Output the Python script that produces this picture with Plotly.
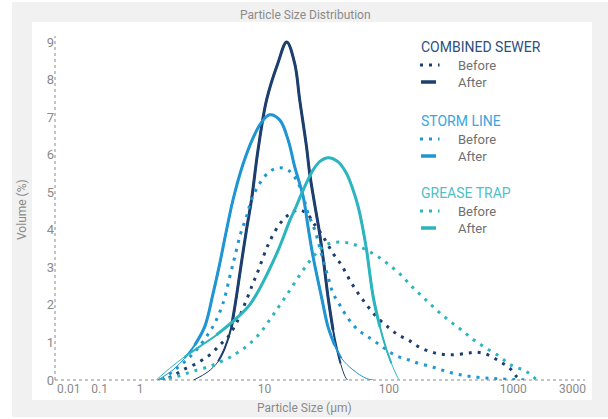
import plotly.graph_objects as go

# ---------------- data (particle size in µm, volume in %) ----------------
CS_BEFORE_SIZE = [1.44, 1.79, 2.21, 2.84, 3.63, 4.37, 5.10, 6.12, 7.16, 8.10, 8.88, 10.7, 13.1, 15.5,
                  18.6, 21.8, 25.4, 29.6, 35.6, 41.6, 48.5, 56.6, 68.1, 82.0, 101, 119, 143, 172,
                  228, 310, 422, 510, 628, 782, 941, 1065, 1150]
CS_BEFORE_VOL = [0, 0.09, 0.27, 0.44, 0.67, 0.93, 1.15, 1.6, 2.13, 2.58, 2.9, 3.6, 4.13, 4.39,
                 4.53, 4.44, 4.13, 3.82, 3.37, 3.06, 2.66, 2.31, 1.95, 1.64, 1.38, 1.2, 1.07, 0.89,
                 0.73, 0.67, 0.71, 0.74, 0.67, 0.49, 0.31, 0.09, 0]

CS_AFTER_SIZE = [2.7, 3.52, 4.24, 4.79, 5.43, 5.95, 6.52, 7.16, 7.86, 8.88, 10.4, 12.8, 15.1, 17.5,
                 19.2, 21.8, 23.1, 25.0, 27.5, 30.0, 32.4, 35.6, 38.4, 40.9, 44.5, 46.5]
CS_AFTER_VOL = [0, 0.22, 0.49, 0.84, 1.42, 2.22, 3.11, 3.99, 4.79, 6.13, 7.46, 8.43, 9.0, 8.43,
                7.46, 6.2, 5.5, 4.79, 3.99, 3.11, 2.22, 1.33, 0.8, 0.44, 0.09, 0]

SL_BEFORE_SIZE = [1.5, 1.90, 2.36, 2.84, 3.41, 3.98, 4.64, 5.26, 5.77, 6.45, 7.17, 7.86, 9.17, 11.0,
                  13.1, 15.5, 18.1, 20.5, 22.4, 25.4, 28.5, 32.4, 35.6, 40.3, 47.0, 56.6, 68.1, 84.7,
                  101, 119, 143, 167, 227, 310, 422, 574, 782, 1362]
SL_BEFORE_VOL = [0, 0.27, 0.53, 0.8, 1.15, 1.51, 2.04, 2.75, 3.28, 3.91, 4.35, 4.79, 5.24, 5.55,
                 5.65, 5.59, 5.33, 4.88, 4.44, 3.99, 3.4, 2.75, 2.31, 2.0, 1.64, 1.33, 1.15, 0.93,
                 0.75, 0.62, 0.54, 0.46, 0.34, 0.2, 0.11, 0.06, 0.03, 0]

SL_AFTER_SIZE = [1.39, 1.84, 2.28, 2.75, 3.31, 3.86, 4.37, 4.89, 5.59, 6.73, 8.10, 9.46, 11.0, 13.3,
                 15.5, 17.5, 20.5, 22.4, 24.6, 28.7, 32.4, 36.7, 41.6, 51.5, 66.0, 74.6]
SL_AFTER_VOL = [0, 0.27, 0.58, 0.93, 1.42, 2.3, 3.1, 3.9, 4.8, 5.75, 6.45, 6.86, 7.06, 6.92,
                6.39, 5.68, 4.88, 4.08, 3.28, 2.22, 1.42, 0.93, 0.58, 0.27, 0.04, 0]

GT_BEFORE_SIZE = [1.44, 1.96, 2.59, 3.52, 4.79, 5.95, 7.38, 9.17, 11.7, 15.0, 20.5, 24.6, 28.7, 33.7,
                  42.9, 53.2, 66.2, 82.0, 101, 125, 152, 189, 234, 300, 384, 476, 611, 782, 912,
                  1032, 1203, 1362, 1543]
GT_BEFORE_VOL = [0, 0.09, 0.22, 0.35, 0.53, 0.71, 0.93, 1.24, 1.73, 2.25, 2.93, 3.28, 3.51, 3.64,
                 3.67, 3.6, 3.46, 3.28, 3.06, 2.8, 2.5, 2.2, 1.91, 1.6, 1.33, 1.08, 0.84, 0.62, 0.44,
                 0.35, 0.27, 0.16, 0]

GT_AFTER_SIZE = [1.35, 1.73, 2.28, 3.01, 4.11, 5.95, 7.60, 9.17, 12.9, 16.0, 17.5, 20.5, 24.6, 27.9,
                 32.5, 39.1, 45.7, 51.6, 56.6, 61.4, 66.2, 74.8, 84.7, 95.9, 105, 119, 122]
GT_AFTER_VOL = [0, 0.31, 0.62, 0.89, 1.2, 1.64, 2.0, 2.44, 3.46, 4.25, 4.53, 5.06, 5.59, 5.82,
                5.92, 5.81, 5.5, 5.06, 4.62, 4.08, 3.46, 2.22, 1.42, 0.8, 0.44, 0.04, 0]

GROUPS = ["COMBINED SEWER", "STORM LINE", "GREASE TRAP"]
SERIES_NAMES = ["Before", "After"]

X_TICK_LABELS = ["0.01", "0.1", "1", "10", "100", "1000", "3000"]
X_TICK_POS = [0.267, 0.473, 1, 10, 100, 1000, 3000]   # the axis is compressed below 1 µm
Y_TICKS = [0, 1, 2, 3, 4, 5, 6, 7, 8, 9]

# ---------------- styles ----------------
LINE_COLORS = ["#1c3f6e", "#1f96d3", "#2db5bf"]
TITLE_COLORS = ["#2d4f7f", "#3aa5dd", "#4fc0c8"]
GRAY = "#8a8a8a"
LEGEND_TEXT = "#707070"
FONT = "Roboto, Arial, sans-serif"
DOT = "3px,6px"
SMOOTH = 1.0
TAPER = [(0.0, 1.0), (0.35, 2.0), (0.9, 3.0)]   # (minimum volume shown, line width)

fig = go.Figure()

data = [
    (CS_BEFORE_SIZE, CS_BEFORE_VOL, CS_AFTER_SIZE, CS_AFTER_VOL),
    (SL_BEFORE_SIZE, SL_BEFORE_VOL, SL_AFTER_SIZE, SL_AFTER_VOL),
    (GT_BEFORE_SIZE, GT_BEFORE_VOL, GT_AFTER_SIZE, GT_AFTER_VOL),
]

for gi, (bs, bv, as_, av) in enumerate(data):
    col = LINE_COLORS[gi]
    grp = GROUPS[gi]
    # before (dotted)
    fig.add_trace(go.Scatter(
        x=bs, y=bv, mode="lines", name=grp + " " + SERIES_NAMES[0], showlegend=False,
        line=dict(color=col, width=3, dash=DOT, shape="spline", smoothing=SMOOTH),
        hoverinfo="skip"))
    # after (solid): layered widths so the tails look tapered
    for vmin, lw in TAPER:
        pts = [(s, v) for s, v in zip(as_, av) if v >= vmin]
        fig.add_trace(go.Scatter(
            x=[p[0] for p in pts], y=[p[1] for p in pts], mode="lines",
            name=grp + " " + SERIES_NAMES[1], showlegend=False,
            line=dict(color=col, width=lw, shape="spline", smoothing=SMOOTH), hoverinfo="skip"))

L, R, T, B = 55, 23, 36, 39
W, H = 608, 419
pw, ph = W - L - R, H - T - B


def px_x(p):
    return (p - L) / pw


def px_y(p):
    return (H - B - p) / ph


shapes = [
    dict(type="rect", xref="paper", yref="paper", x0=px_x(12), x1=px_x(610), y0=px_y(417), y1=px_y(2),
         fillcolor="#f1f1f1", line=dict(width=0), layer="below"),
    dict(type="rect", xref="paper", yref="paper", x0=px_x(32), x1=px_x(592), y0=px_y(400), y1=px_y(22),
         fillcolor="white", line=dict(width=0), layer="below"),
    dict(type="line", xref="paper", yref="paper", x0=0, x1=0, y0=0, y1=1,
         line=dict(color=GRAY, width=1, dash="dot"), layer="below"),
    dict(type="line", xref="paper", yref="paper", x0=0, x1=1, y0=0, y1=0,
         line=dict(color=GRAY, width=1, dash="dot"), layer="below"),
]

annotations = [
    dict(text="Particle Size Distribution", xref="paper", yref="paper", x=px_x(305), y=px_y(15),
         showarrow=False, font=dict(size=12, color=GRAY, family=FONT), xanchor="center", yanchor="middle"),
    dict(text="Particle Size (µm)", xref="paper", yref="paper", x=px_x(304), y=px_y(408),
         showarrow=False, font=dict(size=12, color=GRAY, family=FONT), xanchor="center", yanchor="middle"),
    dict(text="Volume (%)", xref="paper", yref="paper", x=px_x(22), y=px_y(210), textangle=-90,
         showarrow=False, font=dict(size=12, color=GRAY, family=FONT), xanchor="center", yanchor="middle"),
]

# legend built from text and short line samples
LEG_TITLE_Y = [47, 121, 193]
LEG_ROW_DY = [18, 35]
for gi, grp in enumerate(GROUPS):
    ty = LEG_TITLE_Y[gi]
    annotations.append(dict(text=grp, xref="paper", yref="paper", x=px_x(419), y=px_y(ty),
                            showarrow=False, xanchor="left", yanchor="middle",
                            font=dict(size=14, color=TITLE_COLORS[gi], family=FONT)))
    for si, sname in enumerate(SERIES_NAMES):
        ry = ty + LEG_ROW_DY[si]
        annotations.append(dict(text=sname, xref="paper", yref="paper", x=px_x(456), y=px_y(ry),
                                showarrow=False, xanchor="left", yanchor="middle",
                                font=dict(size=13, color=LEGEND_TEXT, family=FONT)))
        if si == 0:
            shapes.append(dict(type="line", xref="paper", yref="paper", x0=px_x(420), x1=px_x(439.5),
                               y0=px_y(ry), y1=px_y(ry),
                               line=dict(color=LINE_COLORS[gi], width=3, dash=DOT)))
        else:
            shapes.append(dict(type="line", xref="paper", yref="paper", x0=px_x(421), x1=px_x(436),
                               y0=px_y(ry), y1=px_y(ry),
                               line=dict(color=LINE_COLORS[gi], width=3.5)))

fig.update_layout(
    width=W, height=H,
    margin=dict(l=L, r=R, t=T, b=B, pad=0),
    paper_bgcolor="white", plot_bgcolor="white",
    font=dict(family=FONT, color=GRAY, size=12),
    shapes=shapes, annotations=annotations,
    showlegend=False,
    xaxis=dict(type="log", range=[-0.684, 3.577], tickvals=X_TICK_POS, ticktext=X_TICK_LABELS,
               showgrid=False, zeroline=False, showline=False, ticks="",
               tickfont=dict(size=12, color=GRAY)),
    yaxis=dict(range=[0, 9.16], tickvals=Y_TICKS, showgrid=False, zeroline=False, showline=False,
               ticks="", tickfont=dict(size=13, color=GRAY)),
)

fig.write_html("out.html", config={"displayModeBar": False},
               post_script="document.body.style.margin='0px';document.body.style.overflow='hidden';")
